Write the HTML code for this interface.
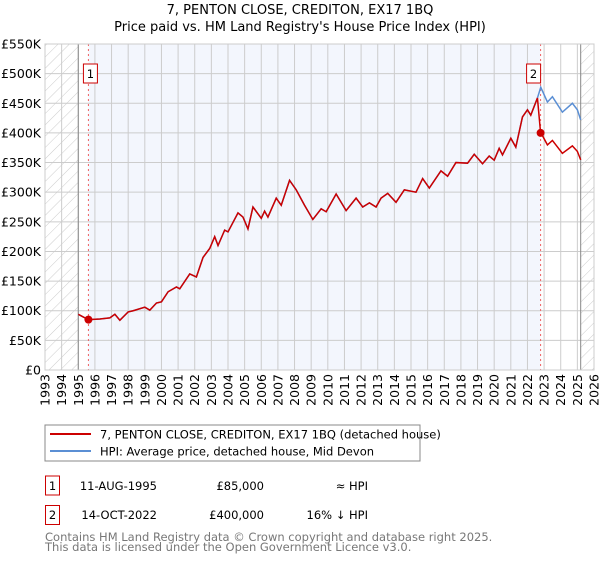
<!DOCTYPE html>
<html><head><meta charset="utf-8"><style>
body{margin:0;background:#fff;font-family:"Liberation Sans","DejaVu Sans",sans-serif;}
svg text{font-family:"DejaVu Sans","Liberation Sans",sans-serif;}
</style></head><body>
<svg id="c" width="600" height="560" xmlns="http://www.w3.org/2000/svg">
<defs><pattern id="h" width="8" height="8" patternUnits="userSpaceOnUse" patternTransform="rotate(45)"><line x1="0" y1="0" x2="0" y2="8" stroke="#ccc" stroke-width="1"/></pattern></defs>
<text x="300" y="14" font-size="13" text-anchor="middle">7, PENTON CLOSE, CREDITON, EX17 1BQ</text>
<text x="300" y="31" font-size="13" text-anchor="middle">Price paid vs. HM Land Registry's House Price Index (HPI)</text>
<g id="plot"></g>
<rect x="45" y="425" width="375" height="36" fill="#fff" stroke="#888"/>
<line x1="50" y1="434" x2="91" y2="434" stroke="#cc0000" stroke-width="2"/>
<text x="100" y="438.5" font-size="11.5">7, PENTON CLOSE, CREDITON, EX17 1BQ (detached house)</text>
<line x1="50" y1="451" x2="91" y2="451" stroke="#5b8fd4" stroke-width="2"/>
<text x="100" y="455.5" font-size="11.5">HPI: Average price, detached house, Mid Devon</text>
<g font-size="11.5">
<rect x="45.5" y="476" width="14" height="19" fill="#fff" stroke="#cc0000"/>
<text x="52.5" y="490" text-anchor="middle">1</text>
<text x="157" y="490" text-anchor="end">11-AUG-1995</text>
<text x="264" y="490" text-anchor="end">£85,000</text>
<text x="368" y="490" text-anchor="end">≈ HPI</text>
<rect x="45.5" y="505.5" width="14" height="19" fill="#fff" stroke="#cc0000"/>
<text x="52.5" y="519" text-anchor="middle">2</text>
<text x="157" y="519" text-anchor="end">14-OCT-2022</text>
<text x="264" y="519" text-anchor="end">£400,000</text>
<text x="368" y="519" text-anchor="end">16% ↓ HPI</text>
</g>
<text x="45" y="541" font-size="11.5" fill="#777">Contains HM Land Registry data © Crown copyright and database right 2025.</text>
<text x="45" y="551" font-size="11.5" fill="#777">This data is licensed under the Open Government Licence v3.0.</text>
</svg>
<script>
const hpiDates=[1995.0,1995.6,1996.3,1996.9,1997.2,1997.5,1998.0,1998.3,1999.0,1999.3,1999.7,2000.0,2000.4,2000.9,2001.1,2001.7,2002.1,2002.5,2002.9,2003.2,2003.4,2003.8,2004.0,2004.6,2004.9,2005.2,2005.5,2006.0,2006.2,2006.4,2006.9,2007.2,2007.7,2008.1,2008.6,2009.1,2009.6,2009.9,2010.5,2011.1,2011.7,2012.1,2012.5,2012.9,2013.2,2013.6,2014.1,2014.6,2015.3,2015.7,2016.1,2016.8,2017.2,2017.7,2018.4,2018.8,2019.3,2019.7,2020.0,2020.3,2020.5,2021.0,2021.3,2021.7,2022.0,2022.2,2022.6,2022.8,2023.2,2023.5,2024.1,2024.7,2025.0,2025.2];
const hpiValues=[94,85,86,88,94,84,98,100,106,101,113,115,132,140,137,162,157,190,205,225,210,236,233,265,258,238,275,256,268,258,290,278,320,304,278,254,272,267,297,269,290,275,282,275,290,298,283,304,300,323,307,336,327,350,349,364,348,361,354,374,363,391,376,427,439,430,459,477,452,461,435,450,439,422];
const saleDates=[1995.61,2022.79];
const salePrices=[85,400];
const yTicks=[0,50,100,150,200,250,300,350,400,450,500,550];
const xYears=[1993,1994,1995,1996,1997,1998,1999,2000,2001,2002,2003,2004,2005,2006,2007,2008,2009,2010,2011,2012,2013,2014,2015,2016,2017,2018,2019,2020,2021,2022,2023,2024,2025,2026];
const L=45,R=594,T=44,B=370,X0=1993,X1=2026,YMAX=550;
const sx=v=>L+(v-X0)/(X1-X0)*(R-L);
const sy=v=>B-v/YMAX*(B-T);
const g=document.getElementById('plot');
const NS='http://www.w3.org/2000/svg';
function mk(t,a){const e=document.createElementNS(NS,t);for(const k in a)e.setAttribute(k,a[k]);g.appendChild(e);return e;}
function hpiAt(d){for(let i=1;i<hpiDates.length;i++){if(d<=hpiDates[i]){const f=(d-hpiDates[i-1])/(hpiDates[i]-hpiDates[i-1]);return hpiValues[i-1]+f*(hpiValues[i]-hpiValues[i-1]);}}return hpiValues[hpiValues.length-1];}
const endD=hpiDates[hpiDates.length-1];
let e;
e=mk('rect',{x:L,y:T,width:sx(1995)-L,height:B-T,fill:'url(#h)'});


e=mk('rect',{x:sx(endD),y:T,width:R-sx(endD),height:B-T,fill:'url(#h)'});


e=mk('rect',{x:sx(saleDates[0]),y:T,width:sx(saleDates[1])-sx(saleDates[0]),height:B-T,fill:'#f3f6fd'});


yTicks.forEach(v=>{
 e=mk('line',{x1:L,x2:R,y1:sy(v),y2:sy(v),stroke:'#ccc','stroke-width':1});
 
 
 e=mk('text',{x:L-4,y:sy(v)+4.5,'font-size':'12.5','text-anchor':'end'});
 e.textContent='£'+(v?v+'K':'0');
 
 
});
xYears.forEach(v=>{
 e=mk('line',{x1:sx(v),x2:sx(v),y1:T,y2:B,stroke:'#ccc','stroke-width':1});
 
 
 e=mk('text',{x:0,y:0,'font-size':'12.5','text-anchor':'end',transform:`translate(${sx(v)+4.5},${B+4}) rotate(-90)`});
 e.textContent=v;
 
 
});
[1995,endD].forEach(v=>{
 e=mk('line',{x1:sx(v),x2:sx(v),y1:T,y2:B,stroke:'#888','stroke-width':1});
 
 
});
saleDates.forEach((d,i)=>{
 e=mk('line',{x1:sx(d),x2:sx(d),y1:T,y2:B,stroke:'#f06060','stroke-width':1,'stroke-dasharray':'2,3'});
 
 
});
e=mk('polyline',{points:hpiDates.map((d,i)=>sx(d)+','+sy(hpiValues[i])).join(' '),fill:'none',stroke:'#5b8fd4','stroke-width':1.5});


const r0=salePrices[0]/hpiAt(saleDates[0]),r1=salePrices[1]/hpiAt(saleDates[1]);
const pts=[];
hpiDates.forEach((d,i)=>{if(d<saleDates[1])pts.push([d,hpiValues[i]*r0]);});
pts.push([saleDates[1],salePrices[1]]);
hpiDates.forEach((d,i)=>{if(d>saleDates[1])pts.push([d,hpiValues[i]*r1]);});
e=mk('polyline',{points:pts.map(p=>sx(p[0])+','+sy(p[1])).join(' '),fill:'none',stroke:'#cc0000','stroke-width':1.5});


saleDates.forEach((d,i)=>{
 e=mk('circle',{cx:sx(d),cy:sy(salePrices[i]),r:4,fill:'#cc0000'});
 
 
 e=mk('rect',{x:sx(d)-(i?13:4)-1,y:64,width:14,height:19,fill:'#fff',stroke:'#cc0000'});
 
 
 e=mk('text',{x:sx(d)-(i?13:4)+6,y:78,'font-size':'11.5','text-anchor':'middle'});
 e.textContent=String(i+1);
 
 
});
e=mk('rect',{x:L,y:T,width:R-L,height:B-T,fill:'none',stroke:'#ccc'});


</script>
</body></html>
